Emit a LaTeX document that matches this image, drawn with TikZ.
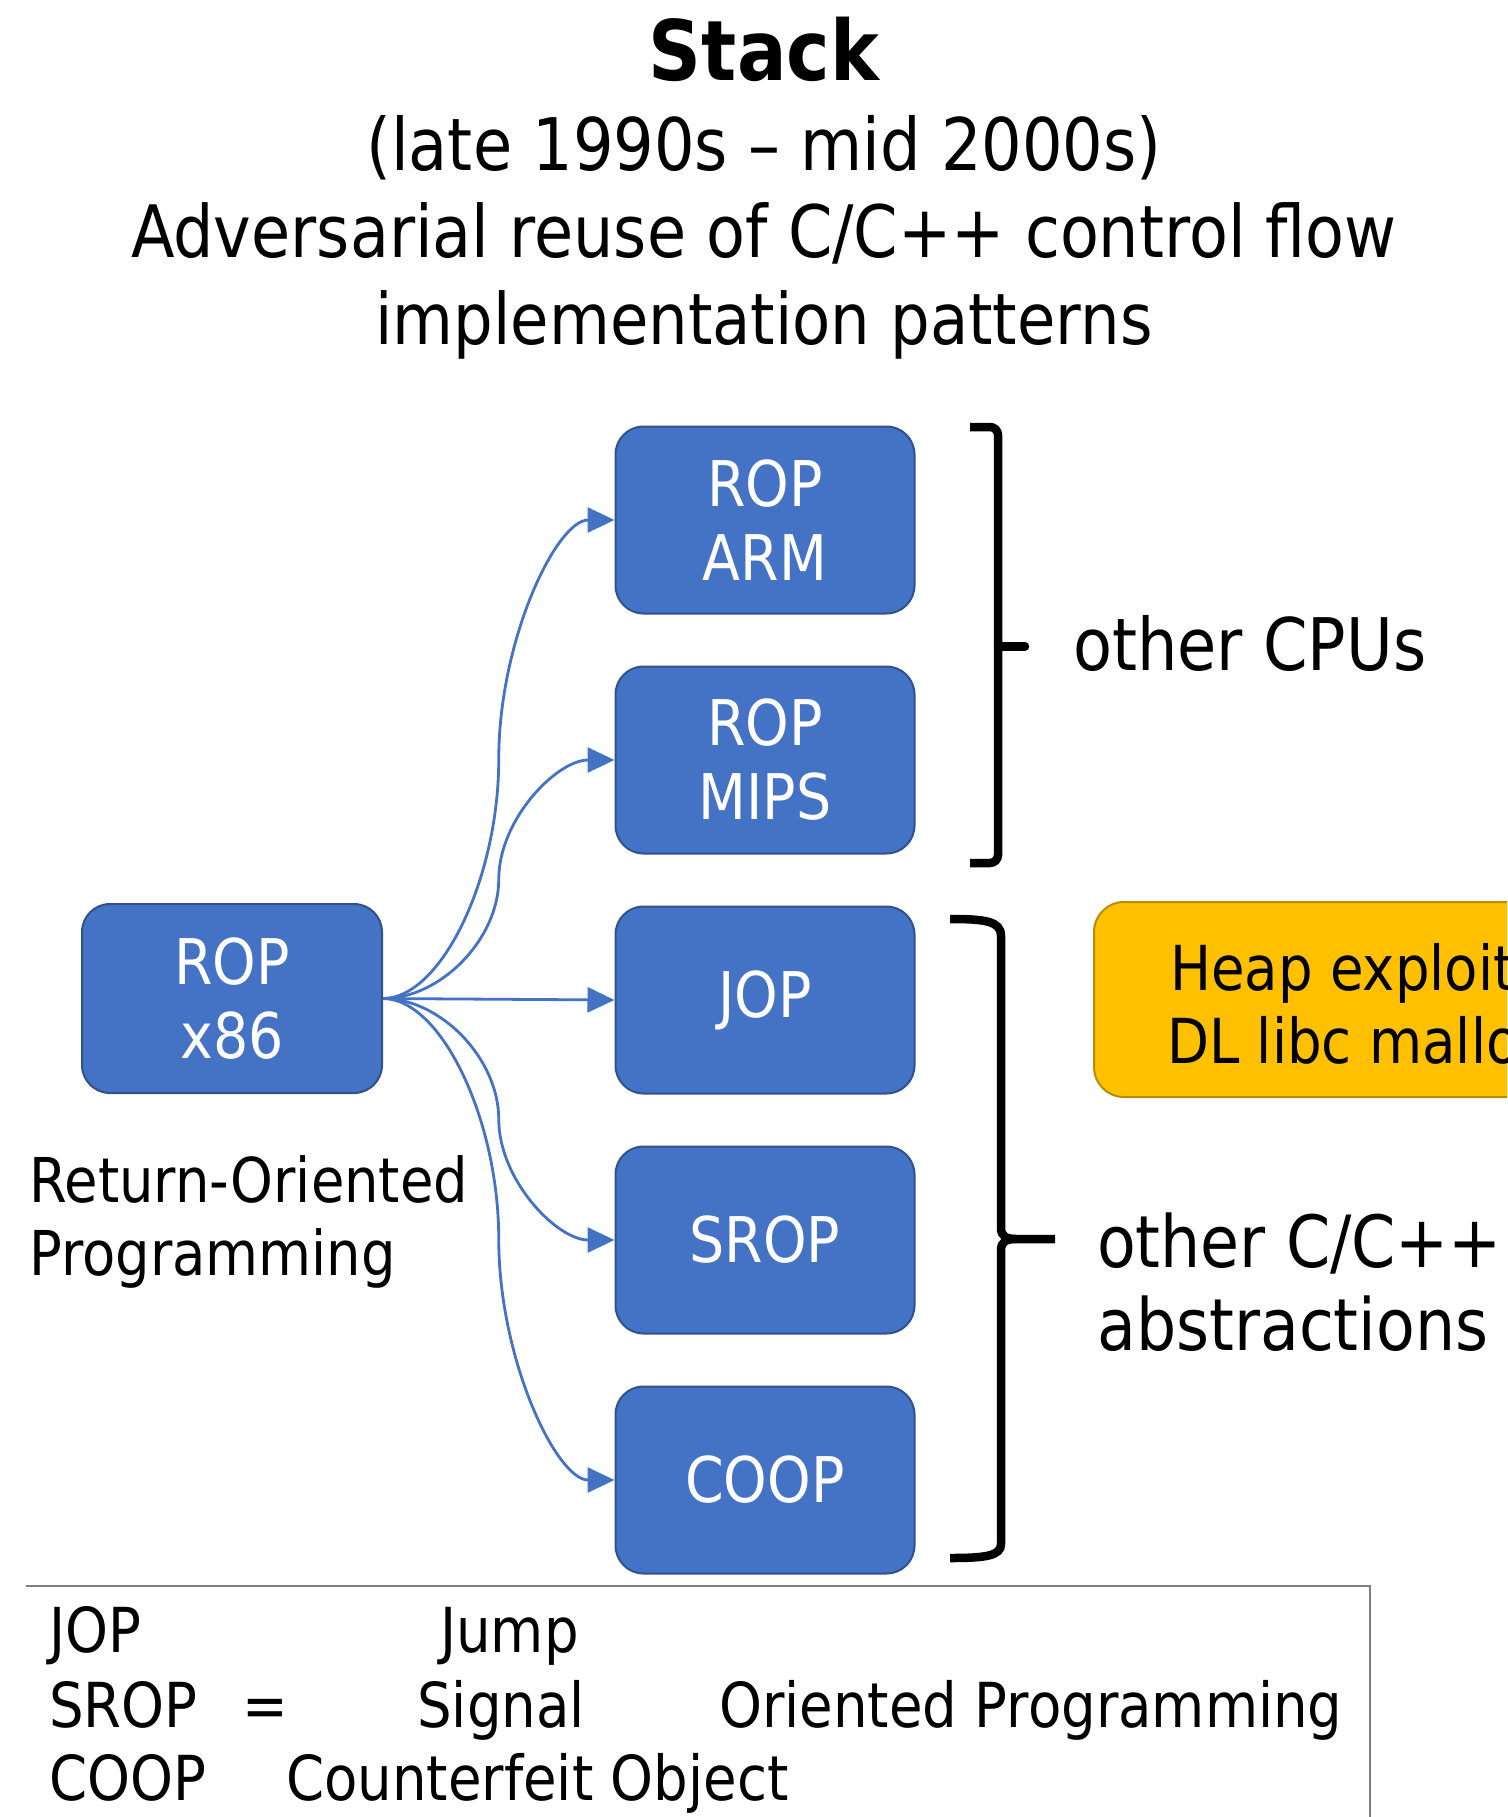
\documentclass[tikz,border=0pt]{standalone}
\usepackage{fontspec}
\setmainfont{DejaVu Sans}[FakeStretch=0.88]
\usetikzlibrary{arrows.meta,calc}

\definecolor{boxblue}{HTML}{4472C4}
\definecolor{boxedge}{HTML}{2F528F}
\definecolor{heapfill}{HTML}{FFC000}
\definecolor{heapedge}{HTML}{BC8C00}
\definecolor{legendedge}{HTML}{7F7F7F}

\tikzset{
  blk/.style={draw=boxedge, line width=2pt, fill=boxblue, rounded corners=28pt,
    minimum width=299pt, minimum height=187pt, inner sep=0pt, text=white,
    align=center, font=\fontsize{63}{74}\selectfont},
  conn/.style={draw=boxblue, line width=2.8pt,
    -{Triangle[length=27pt,width=25pt]}},
  % two-bend curved connector: horizontal out, vertical in the middle, horizontal in
  pptcurve/.style={to path={
    let \p1=(\tikztostart), \p2=(\tikztotarget) in
    .. controls ({(3*\x1+\x2)/4},\y1) and ({(\x1+\x2)/2},{(3*\y1+\y2)/4}) ..
    ({(\x1+\x2)/2},{(\y1+\y2)/2})
    .. controls ({(\x1+\x2)/2},{(\y1+3*\y2)/4}) and ({(\x1+3*\x2)/4},\y2) ..
    (\tikztotarget)}},
  brace/.style={line width=8.5pt, black},
  lbl/.style={anchor=base west, inner sep=0pt},
  ttl/.style={anchor=base, inner sep=0pt},
}

\begin{document}
\begin{tikzpicture}[x=1pt, y=-1pt]
\useasboundingbox (0,0) rectangle (1507,1817);
\clip (0,0) rectangle (1507,1817);

% heading
\node[ttl, font=\fontsize{83.5}{96}\selectfont\bfseries] (title) at (764,81) {Stack};
\node[ttl, font=\fontsize{72.5}{86}\selectfont] (period) at (764,170) {(late 1990s – mid 2000s)};
\node[ttl, font=\fontsize{72.3}{86}\selectfont] (sub1) at (764,257) {Adversarial reuse of C/C++ control flow};
\node[ttl, font=\fontsize{71}{86}\selectfont] (sub2) at (764,344) {implementation patterns};

% attack boxes
\node[blk, minimum width=300pt, minimum height=189pt] (x86) at (232,998.5) {ROP\\x86};
\node[blk] (arm)  at (765,520)  {ROP\\ARM};
\node[blk] (mips) at (765,760)  {ROP\\MIPS};
\node[blk] (jop)  at (765,1000) {JOP};
\node[blk] (srop) at (765,1240) {SROP};
\node[blk] (coop) at (765,1480) {COOP};

% heap box, runs off the right edge
\node[draw=heapedge, line width=2pt, fill=heapfill, rounded corners=30pt,
      minimum width=500pt, minimum height=195pt, inner sep=0pt, anchor=west]
      (heap) at (1093,999.5) {};
\node[lbl, font=\fontsize{62}{74}\selectfont] (heap1) at (1170,990) {Heap exploit};
\node[lbl, font=\fontsize{62}{74}\selectfont] (heap2) at (1167,1063) {DL libc mallo};

% connectors
\draw[conn] (x86.east) to[pptcurve] (arm.west);
\draw[conn] (x86.east) to[pptcurve] (mips.west);
\draw[conn] (x86.east) -- (jop.west);
\draw[conn] (x86.east) to[pptcurve] (srop.west);
\draw[conn] (x86.east) to[pptcurve] (coop.west);

% bracket grouping the CPU variants
\draw[brace, rounded corners=8pt] (970,427) -- (998,427) -- (998,863) -- (970,863);
\draw[brace, line cap=round] (998,646.5) -- (1025,646.5);
\node[lbl, font=\fontsize{72.5}{86}\selectfont] (cpus) at (1073,670) {other CPUs};

% brace grouping the other abstractions
\draw[brace] (950,919) .. controls (985,919) and (1001,921) .. (1001,936)
  -- (1001,1228) .. controls (1001,1236) and (1006,1239) .. (1016,1239) -- (1055,1239);
\draw[brace] (1016,1239) .. controls (1006,1239) and (1001,1242) .. (1001,1250)
  -- (1001,1544) .. controls (1001,1556) and (985,1558) .. (950,1558);
\node[lbl, font=\fontsize{72}{86}\selectfont] (abs1) at (1097,1267) {other C/C++};
\node[lbl, font=\fontsize{72}{86}\selectfont] (abs2) at (1097,1350) {abstractions};

% caption under the x86 box
\node[lbl, font=\fontsize{61.8}{73}\selectfont] (rop1) at (29,1202) {Return-Oriented};
\node[lbl, font=\fontsize{61.8}{73}\selectfont] (rop2) at (29,1275) {Programming};

% legend
\draw[legendedge, line width=2.5pt] (26,1586) -- (1370,1586) -- (1370,1830);
\begin{scope}[every node/.style={lbl, font=\fontsize{62}{74}\selectfont}]
  \node (l1a) at (49,1652)  {JOP};
  \node (l1b) at (440,1652) {Jump};
  \node (l2a) at (49,1727)  {SROP};
  \node (l2b) at (242,1727) {=};
  \node (l2c) at (417,1727) {Signal};
  \node (l2d) at (719,1727) {Oriented Programming};
  \node (l3a) at (49,1800)  {COOP};
  \node (l3b) at (286,1800) {Counterfeit Object};
\end{scope}
\end{tikzpicture}
\end{document}
